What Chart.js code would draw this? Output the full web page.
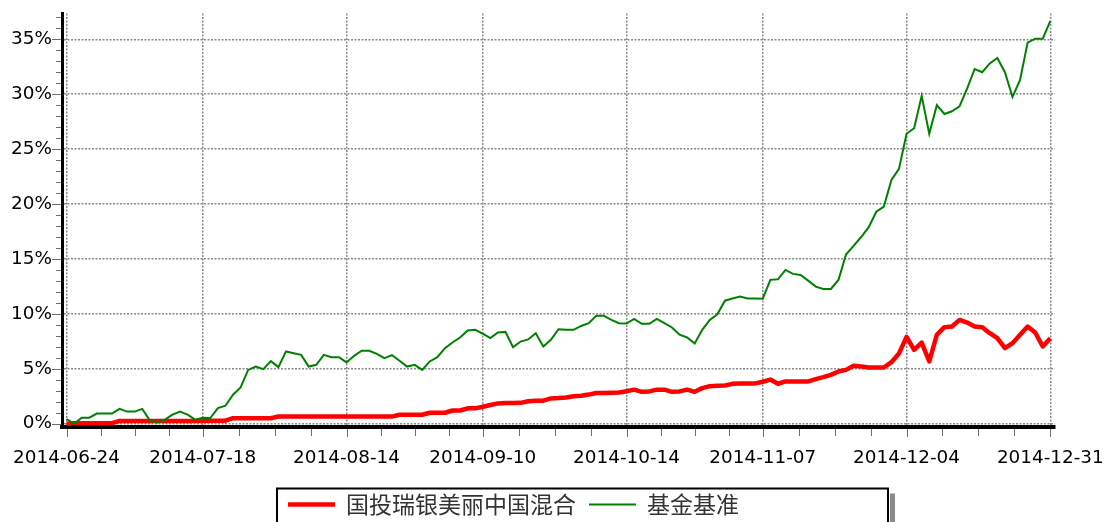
<!DOCTYPE html>
<html>
<head>
<meta charset="utf-8">
<script src="https://cdn.jsdelivr.net/npm/chart.js@4.4.1/dist/chart.umd.min.js"></script>
<style>
html,body{margin:0;padding:0;background:#fff;}
#wrap{position:relative;width:1104px;height:522px;overflow:hidden;}
canvas{display:block;}
</style>
</head>
<body>
<div id="wrap"><canvas id="c" width="1104" height="522"></canvas></div>
<script>
// ---- data ----
const dates = [
 '2014-06-24','2014-06-25','2014-06-26','2014-06-27','2014-06-30',
 '2014-07-01','2014-07-02','2014-07-03','2014-07-04','2014-07-07','2014-07-08','2014-07-09','2014-07-10','2014-07-11',
 '2014-07-14','2014-07-15','2014-07-16','2014-07-17','2014-07-18','2014-07-21','2014-07-22','2014-07-23','2014-07-24','2014-07-25',
 '2014-07-28','2014-07-29','2014-07-30','2014-07-31',
 '2014-08-01','2014-08-04','2014-08-05','2014-08-06','2014-08-07','2014-08-08','2014-08-11','2014-08-12','2014-08-13','2014-08-14','2014-08-15',
 '2014-08-18','2014-08-19','2014-08-20','2014-08-21','2014-08-22','2014-08-25','2014-08-26','2014-08-27','2014-08-28','2014-08-29',
 '2014-09-01','2014-09-02','2014-09-03','2014-09-04','2014-09-05','2014-09-09','2014-09-10','2014-09-11','2014-09-12',
 '2014-09-15','2014-09-16','2014-09-17','2014-09-18','2014-09-19','2014-09-22','2014-09-23','2014-09-24','2014-09-25','2014-09-26',
 '2014-09-29','2014-09-30',
 '2014-10-08','2014-10-09','2014-10-10','2014-10-13','2014-10-14','2014-10-15','2014-10-16','2014-10-17',
 '2014-10-20','2014-10-21','2014-10-22','2014-10-23','2014-10-24','2014-10-27','2014-10-28','2014-10-29','2014-10-30','2014-10-31',
 '2014-11-03','2014-11-04','2014-11-05','2014-11-06','2014-11-07','2014-11-10','2014-11-11','2014-11-12','2014-11-13','2014-11-14',
 '2014-11-17','2014-11-18','2014-11-19','2014-11-20','2014-11-21','2014-11-24','2014-11-25','2014-11-26','2014-11-27','2014-11-28',
 '2014-12-01','2014-12-02','2014-12-03','2014-12-04','2014-12-05','2014-12-08','2014-12-09','2014-12-10','2014-12-11','2014-12-12',
 '2014-12-15','2014-12-16','2014-12-17','2014-12-18','2014-12-19','2014-12-22','2014-12-23','2014-12-24','2014-12-25','2014-12-26',
 '2014-12-29','2014-12-30','2014-12-31'
];
const tickLabels = ['2014-06-24','2014-07-18','2014-08-14','2014-09-10','2014-10-14','2014-11-07','2014-12-04','2014-12-31'];
const yTicks = [0,5,10,15,20,25,30,35];
const fundName = '国投瑞银美丽中国混合';
const benchName = '基金基准';
const fundValues = [
 0.00, 0.05, 0.05, 0.05, 0.05, 0.05, 0.05, 0.25, 0.25, 0.25,
 0.25, 0.25, 0.25, 0.25, 0.25, 0.25, 0.25, 0.25, 0.28, 0.28,
 0.28, 0.28, 0.50, 0.50, 0.50, 0.50, 0.50, 0.50, 0.65, 0.65,
 0.65, 0.65, 0.65, 0.65, 0.65, 0.65, 0.65, 0.65, 0.65, 0.65,
 0.65, 0.65, 0.65, 0.65, 0.82, 0.82, 0.82, 0.82, 1.00, 1.00,
 1.00, 1.20, 1.20, 1.40, 1.40, 1.55, 1.70, 1.85, 1.88, 1.88,
 1.90, 2.05, 2.10, 2.10, 2.30, 2.33, 2.38, 2.50, 2.55, 2.65,
 2.80, 2.80, 2.82, 2.85, 2.95, 3.10, 2.90, 2.94, 3.10, 3.10,
 2.90, 2.94, 3.10, 2.90, 3.24, 3.42, 3.45, 3.48, 3.63, 3.67,
 3.67, 3.67, 3.82, 4.02, 3.64, 3.85, 3.85, 3.85, 3.85, 4.06,
 4.24, 4.45, 4.76, 4.90, 5.27, 5.20, 5.12, 5.12, 5.12, 5.60,
 6.40, 7.90, 6.73, 7.39, 5.67, 8.09, 8.79, 8.85, 9.45, 9.21,
 8.85, 8.79, 8.24, 7.79, 6.88, 7.33, 8.09, 8.85, 8.30, 7.03,
 7.79
];
const benchValues = [
 0.43, 0.00, 0.55, 0.55, 0.92, 0.92, 0.92, 1.35, 1.10, 1.10,
 1.35, 0.30, 0.12, 0.37, 0.83, 1.10, 0.83, 0.37, 0.55, 0.52,
 1.42, 1.64, 2.64, 3.30, 4.90, 5.20, 4.97, 5.70, 5.15, 6.58,
 6.42, 6.27, 5.20, 5.36, 6.27, 6.06, 6.06, 5.58, 6.18, 6.64,
 6.64, 6.36, 5.97, 6.24, 5.73, 5.20, 5.36, 4.90, 5.67, 6.06,
 6.88, 7.39, 7.85, 8.48, 8.55, 8.20, 7.79, 8.30, 8.36, 6.97,
 7.48, 7.67, 8.24, 7.03, 7.64, 8.60, 8.55, 8.55, 8.90, 9.15,
 9.82, 9.82, 9.45, 9.15, 9.12, 9.55, 9.09, 9.09, 9.55, 9.15,
 8.76, 8.10, 7.85, 7.30, 8.55, 9.45, 9.97, 11.20, 11.40, 11.58,
 11.40, 11.40, 11.38, 13.10, 13.15, 14.00, 13.64, 13.55, 13.03, 12.48,
 12.27, 12.27, 13.09, 15.40, 16.20, 17.00, 17.90, 19.30, 19.76, 22.20,
 23.20, 26.40, 26.90, 29.85, 26.40, 29.00, 28.20, 28.45, 28.90, 30.50,
 32.30, 32.00, 32.80, 33.30, 32.00, 29.75, 31.30, 34.70, 35.06, 35.06,
 36.67
];

// ---- helpers built from the data ----
const xTickIdx = tickLabels.map(l => dates.indexOf(l));
const toXY = arr => arr.map((v, i) => ({x: i, y: v}));

const tickFont = {family: '"DejaVu Sans", sans-serif', size: 18.4};

// minor/major tick marks drawn outside the plot
const tickMarks = {
  id: 'tickMarks',
  afterDraw(chart) {
    const {ctx, chartArea, scales} = chart;
    const xs = scales.x, ys = scales.y;
    ctx.save();
    ctx.strokeStyle = '#6e6e6e';
    ctx.lineWidth = 1;
    ctx.beginPath();
    const xv = xs.ticks.map(t => t.value);
    for (let k = 0; k < xv.length; k++) {
      const px = Math.round(xs.getPixelForValue(xv[k])) + 0.5;
      ctx.moveTo(px, chartArea.bottom + 2); ctx.lineTo(px, chartArea.bottom + 10);
      if (k < xv.length - 1) {
        for (let q = 1; q < 4; q++) {
          const mp = Math.round(xs.getPixelForValue(xv[k] + (xv[k + 1] - xv[k]) * q / 4)) + 0.5;
          ctx.moveTo(mp, chartArea.bottom + 2); ctx.lineTo(mp, chartArea.bottom + 9);
        }
      }
    }
    for (let v = 0; v <= Math.floor(ys.max); v++) {
      const py = Math.round(ys.getPixelForValue(v)) + 0.5;
      const len = (v % 5 === 0) ? 9 : 5;
      ctx.moveTo(chartArea.left - 1 - len, py); ctx.lineTo(chartArea.left - 1, py);
    }
    ctx.stroke();
    ctx.restore();
  }
};

// boxed legend under the chart
const legendBox = {
  id: 'legendBox',
  afterDraw(chart) {
    const ctx = chart.ctx;
    const L = 277, T = 488.5, W = 611, H = 60;
    ctx.save();
    ctx.fillStyle = '#8a8a8a';
    ctx.fillRect(L + W + 2, T + 5, 5, H);
    ctx.strokeStyle = '#000';
    ctx.lineWidth = 2;
    ctx.strokeRect(L, T, W, H);
    ctx.font = '23px "Noto Sans CJK SC", sans-serif';
    ctx.textBaseline = 'middle';
    ctx.textAlign = 'left';
    const cy = 504.5;
    let cx = L + 11;
    chart.data.datasets.forEach((ds, i) => {
      ctx.strokeStyle = ds.borderColor;
      ctx.lineWidth = ds.borderWidth;
      ctx.beginPath();
      ctx.moveTo(cx, cy); ctx.lineTo(cx + 47, cy);
      ctx.stroke();
      cx += 47 + 11;
      ctx.fillStyle = '#333';
      ctx.fillText(ds.label, cx, cy);
      cx += ctx.measureText(ds.label).width + 13;
    });
    ctx.restore();
  }
};

new Chart(document.getElementById('c'), {
  type: 'line',
  data: {
    datasets: [
      {label: fundName, data: toXY(fundValues), borderColor: '#ff0000', borderWidth: 4.5,
       pointRadius: 0, tension: 0, fill: false, order: 1, borderJoinStyle: 'round'},
      {label: benchName, data: toXY(benchValues), borderColor: '#008000', borderWidth: 2,
       pointRadius: 0, tension: 0, fill: false, order: 0}
    ]
  },
  options: {
    responsive: false,
    animation: false,
    devicePixelRatio: 1,
    layout: {padding: {top: 13.5, right: 49, bottom: 0, left: 0}},
    plugins: {legend: {display: false}, tooltip: {enabled: false}},
    scales: {
      x: {
        type: 'linear', min: -0.6, max: 130.6,
        afterBuildTicks: axis => { axis.ticks = xTickIdx.map(v => ({value: v})); },
        afterFit: axis => { axis.height = 95; },
        ticks: {autoSkip: false, maxRotation: 0, padding: 0, color: '#000', font: tickFont,
                callback: v => dates[v]},
        grid: {color: '#8a8a8a', lineWidth: 1.5, drawTicks: true, tickLength: 20, tickColor: 'rgba(0,0,0,0)'},
        border: {display: true, color: '#000', width: 4, dash: [2, 1.5]}
      },
      y: {
        type: 'linear', min: -0.3, max: 37.35,
        afterBuildTicks: axis => { axis.ticks = yTicks.map(v => ({value: v})); },
        afterFit: axis => { axis.width = 62; },
        ticks: {padding: 0, color: '#000', font: tickFont, callback: v => v + '%'},
        grid: {color: '#8a8a8a', lineWidth: 1.5, drawTicks: true, tickLength: 10, tickColor: 'rgba(0,0,0,0)'},
        border: {display: true, color: '#000', width: 3, dash: [2, 1.5]}
      }
    }
  },
  plugins: [tickMarks, legendBox]
});
</script>
</body>
</html>
